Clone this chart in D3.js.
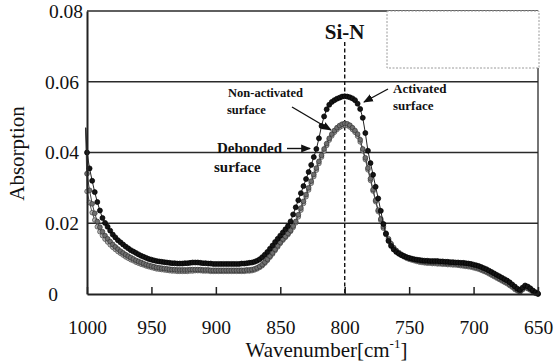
<!DOCTYPE html>
<html>
<head>
<meta charset="utf-8">
<script src="https://cdn.jsdelivr.net/npm/d3@7"></script>
<style>
  html, body { margin: 0; padding: 0; background: #fff; }
  svg { display: block; }
  text { font-family: "Liberation Serif", "Times New Roman", serif; fill: #111; }
</style>
</head>
<body>
<svg id="chart" width="556" height="363"></svg>
<script>
// ---------------- data ----------------
const wavenumbers = [
  1001,
  1000, 998, 996, 994, 992, 990, 988, 986, 984, 982,
  980, 978, 976, 974, 972, 970, 968, 966, 964, 962,
  960, 958, 956, 954, 952, 950, 948, 946, 944, 942,
  940, 938, 936, 934, 932, 930, 928, 926, 924, 922,
  920, 918, 916, 914, 912, 910, 908, 906, 904, 902,
  900, 898, 896, 894, 892, 890, 888, 886, 884, 882,
  880, 878, 876, 874, 872, 870, 868, 866, 864, 862,
  860, 858, 856, 854, 852, 850, 848, 846, 844, 842,
  840, 838, 836, 834, 832, 830, 828, 826, 824, 822,
  820, 818, 816, 814, 812, 810, 808, 806, 804, 802,
  800, 798, 796, 794, 792, 790, 788, 786, 784, 782,
  780, 778, 776, 774, 772, 770, 768, 766, 764, 762,
  760, 758, 756, 754, 752, 750, 748, 746, 744, 742,
  740, 738, 736, 734, 732, 730, 728, 726, 724, 722,
  720, 718, 716, 714, 712, 710, 708, 706, 704, 702,
  700, 698, 696, 694, 692, 690, 688, 686, 684, 682,
  680, 678, 676, 674, 672, 670, 668, 666, 664, 662,
  660, 658, 656, 654, 652, 650
];

const activated = [
  0.047,
  0.040, 0.0355, 0.032, 0.0288, 0.026, 0.0236, 0.0215, 0.0201, 0.0190, 0.0179,
  0.0168, 0.0160, 0.0152, 0.0146, 0.0140, 0.0134, 0.0129, 0.0124, 0.0120, 0.0116,
  0.0112, 0.0108, 0.0105, 0.0102, 0.0099, 0.0097, 0.0095, 0.0093, 0.0092, 0.0091,
  0.0090, 0.0089, 0.0088, 0.0087, 0.0087, 0.0086, 0.0086, 0.0086, 0.0087, 0.0087,
  0.0088, 0.0089, 0.0089, 0.0089, 0.0088, 0.0087, 0.0087, 0.0086, 0.0086, 0.0085,
  0.0085, 0.0085, 0.0085, 0.0085, 0.0085, 0.0085, 0.0085, 0.0085, 0.0085, 0.0085,
  0.0086, 0.0086, 0.0087, 0.0088, 0.0089, 0.0091, 0.0094, 0.0098, 0.0104, 0.0111,
  0.0119, 0.0128, 0.0137, 0.0147, 0.0156, 0.0165, 0.0174, 0.0183, 0.0192, 0.0205,
  0.0225, 0.0245, 0.0265, 0.0285, 0.0305, 0.0325, 0.0345, 0.0365, 0.0387, 0.0410,
  0.0440, 0.0475, 0.0502, 0.0522, 0.0535, 0.0543, 0.0548, 0.0552, 0.0555, 0.0558,
  0.0559, 0.0558, 0.0556, 0.0553, 0.0548, 0.0538, 0.0523, 0.0498, 0.0455, 0.0405,
  0.0370, 0.0337, 0.0303, 0.0270, 0.0235, 0.0198, 0.0170, 0.0150, 0.0136, 0.0126,
  0.0119, 0.0114, 0.0110, 0.0107, 0.0104, 0.0102, 0.0100, 0.0098, 0.0097, 0.0096,
  0.0095, 0.0094, 0.0094, 0.0093, 0.0093, 0.0093, 0.0093, 0.0092, 0.0092, 0.0091,
  0.0091, 0.0090, 0.0090, 0.0089, 0.0089, 0.0088, 0.0088, 0.0087, 0.0086, 0.0085,
  0.0083, 0.0081, 0.0079, 0.0076, 0.0073, 0.0070, 0.0066, 0.0062, 0.0058, 0.0054,
  0.0050, 0.0046, 0.0042, 0.0038, 0.0033, 0.0027, 0.0021, 0.0015, 0.0011, 0.0018,
  0.0024, 0.0021, 0.0016, 0.0010, 0.0005, 0.0001
];

const nonActivated = [
  0.047,
  0.034, 0.0293, 0.0255, 0.0228, 0.0205, 0.0189, 0.0176, 0.0165, 0.0156, 0.0148,
  0.0140, 0.0133, 0.0127, 0.0121, 0.0116, 0.0111, 0.0107, 0.0103, 0.0099, 0.0095,
  0.0092, 0.0089, 0.0086, 0.0083, 0.0081, 0.0079, 0.0077, 0.0075, 0.0074, 0.0073,
  0.0072, 0.0071, 0.0070, 0.0069, 0.0069, 0.0068, 0.0068, 0.0068, 0.0068, 0.0068,
  0.0069, 0.0069, 0.0069, 0.0069, 0.0069, 0.0068, 0.0068, 0.0068, 0.0067, 0.0067,
  0.0067, 0.0067, 0.0067, 0.0067, 0.0067, 0.0067, 0.0067, 0.0067, 0.0067, 0.0067,
  0.0067, 0.0067, 0.0068, 0.0068, 0.0069, 0.0071, 0.0074, 0.0078, 0.0083, 0.0090,
  0.0098, 0.0107, 0.0116, 0.0126, 0.0136, 0.0146, 0.0155, 0.0163, 0.0171, 0.0180,
  0.0192, 0.0205, 0.0224, 0.0243, 0.0262, 0.0281, 0.0300, 0.0319, 0.0338, 0.0356,
  0.0375, 0.0392, 0.0410, 0.0425, 0.0440, 0.0452, 0.0462, 0.0470, 0.0476, 0.0480,
  0.0482, 0.0481, 0.0477, 0.0470, 0.0462, 0.0452, 0.0436, 0.0410, 0.0385, 0.0356,
  0.0326, 0.0295, 0.0265, 0.0237, 0.0212, 0.0190, 0.0172, 0.0156, 0.0142, 0.0131,
  0.0123, 0.0117, 0.0112, 0.0108, 0.0104, 0.0101, 0.0099, 0.0097, 0.0095, 0.0093,
  0.0092, 0.0091, 0.0090, 0.0090, 0.0089, 0.0089, 0.0088, 0.0088, 0.0087, 0.0087,
  0.0086, 0.0086, 0.0085, 0.0085, 0.0084, 0.0083, 0.0082, 0.0081, 0.0080, 0.0079,
  0.0077, 0.0075, 0.0073, 0.0070, 0.0067, 0.0064, 0.0060, 0.0056, 0.0052, 0.0048,
  0.0044, 0.0040, 0.0036, 0.0032, 0.0027, 0.0022, 0.0016, 0.0011, 0.0007, 0.0014,
  0.0020, 0.0017, 0.0013, 0.0008, 0.0003, 0.0000
];

const debonded = [
  0.047,
  0.029, 0.0258, 0.0230, 0.0209, 0.0190, 0.0176, 0.0165, 0.0155, 0.0147, 0.0139,
  0.0132, 0.0126, 0.0120, 0.0115, 0.0110, 0.0105, 0.0101, 0.0097, 0.0094, 0.0090,
  0.0087, 0.0084, 0.0082, 0.0079, 0.0077, 0.0075, 0.0073, 0.0071, 0.0070, 0.0069,
  0.0068, 0.0067, 0.0066, 0.0065, 0.0065, 0.0064, 0.0064, 0.0064, 0.0064, 0.0064,
  0.0065, 0.0065, 0.0066, 0.0066, 0.0066, 0.0065, 0.0065, 0.0065, 0.0064, 0.0064,
  0.0064, 0.0064, 0.0064, 0.0064, 0.0064, 0.0064, 0.0064, 0.0064, 0.0064, 0.0064,
  0.0064, 0.0064, 0.0065, 0.0065, 0.0066, 0.0068, 0.0071, 0.0075, 0.0080, 0.0087,
  0.0095, 0.0104, 0.0113, 0.0123, 0.0133, 0.0143, 0.0152, 0.0160, 0.0168, 0.0177,
  0.0188, 0.0201, 0.0218, 0.0237, 0.0256, 0.0275, 0.0294, 0.0313, 0.0332, 0.0350,
  0.0369, 0.0387, 0.0404, 0.0420, 0.0435, 0.0447, 0.0457, 0.0465, 0.0471, 0.0475,
  0.0477, 0.0476, 0.0472, 0.0465, 0.0457, 0.0446, 0.0430, 0.0405, 0.0380, 0.0351,
  0.0321, 0.0291, 0.0261, 0.0233, 0.0208, 0.0186, 0.0168, 0.0152, 0.0139, 0.0128,
  0.0120, 0.0114, 0.0109, 0.0105, 0.0101, 0.0098, 0.0096, 0.0094, 0.0092, 0.0090,
  0.0089, 0.0088, 0.0087, 0.0087, 0.0086, 0.0086, 0.0085, 0.0085, 0.0084, 0.0084,
  0.0083, 0.0083, 0.0082, 0.0082, 0.0081, 0.0080, 0.0079, 0.0078, 0.0077, 0.0076,
  0.0074, 0.0072, 0.0070, 0.0067, 0.0064, 0.0061, 0.0057, 0.0053, 0.0049, 0.0045,
  0.0041, 0.0037, 0.0033, 0.0029, 0.0024, 0.0019, 0.0013, 0.0009, 0.0005, 0.0012,
  0.0018, 0.0015, 0.0011, 0.0006, 0.0002, 0.0000
];

const xTicks = [1000, 950, 900, 850, 800, 750, 700, 650];
const yTicks = [0, 0.02, 0.04, 0.06, 0.08];
const peakPosition = 800;
const peakLabel = "Si-N";
const xTitle = "Wavenumber[cm";
const yTitle = "Absorption";

// ---------------- layout ----------------
const svg = d3.select("#chart");
const W = 556, H = 363;
const m = { left: 87, right: 18, top: 11, bottom: 69 };
const x = d3.scaleLinear().domain([1000, 650]).range([m.left, W - m.right]);
const y = d3.scaleLinear().domain([0, 0.08]).range([H - m.bottom, m.top]);
const serif = '"Liberation Serif", "Times New Roman", serif';

// gridlines
svg.append("g")
  .selectAll("line")
  .data(yTicks.filter(d => d > 0))
  .join("line")
  .attr("x1", x(1000)).attr("x2", x(650))
  .attr("y1", d => y(d)).attr("y2", d => y(d))
  .attr("stroke", "#2a2a2a").attr("stroke-width", 1.3);

// right frame border
svg.append("line")
  .attr("x1", x(650)).attr("x2", x(650))
  .attr("y1", y(0.08)).attr("y2", y(0))
  .attr("stroke", "#2a2a2a").attr("stroke-width", 1.3);

// Si-N dashed marker line
svg.append("line")
  .attr("x1", x(peakPosition)).attr("x2", x(peakPosition))
  .attr("y1", 42).attr("y2", y(0))
  .attr("stroke", "#111").attr("stroke-width", 1.4)
  .attr("stroke-dasharray", "4,2.5");

// series
const series = [
  { name: "Debonded", values: debonded, fill: "#b4b4b4", stroke: "#444", r: 2.3, line: "#555" },
  { name: "Non-activated", values: nonActivated, fill: "#6e6e6e", stroke: "#333", r: 2.4, line: "#444" },
  { name: "Activated", values: activated, fill: "#151515", stroke: "#000", r: 2.5, line: "#222" }
];

const lineGen = d3.line().x(d => x(d[0])).y(d => y(d[1]));

series.forEach(s => {
  const pts = wavenumbers.map((w, i) => [w, s.values[i]]);
  svg.append("path")
    .datum(pts)
    .attr("d", lineGen)
    .attr("fill", "none")
    .attr("stroke", s.line)
    .attr("stroke-width", 1);
  svg.append("g")
    .selectAll("circle")
    .data(pts.filter(p => p[0] <= 1000))
    .join("circle")
    .attr("cx", d => x(d[0]))
    .attr("cy", d => y(d[1]))
    .attr("r", s.r)
    .attr("fill", s.fill)
    .attr("stroke", s.stroke)
    .attr("stroke-width", 0.7);
});

// bottom axis
const xAxis = svg.append("g")
  .attr("transform", `translate(0,${y(0)})`)
  .call(d3.axisBottom(x).tickValues(xTicks).tickFormat(d3.format("d")).tickSizeInner(-7).tickSizeOuter(0).tickPadding(26));
xAxis.attr("font-family", null);
xAxis.select(".domain").attr("stroke", "#222").attr("stroke-width", 2);
xAxis.selectAll(".tick line").attr("stroke", "#222").attr("stroke-width", 1.5);
xAxis.selectAll(".tick text").attr("font-size", "19.5px").attr("fill", "#111")
  .attr("font-family", serif).style("font-family", serif);

// left axis
const labelDx = { 0: -21, 0.08: 4 };
const yAxis = svg.append("g")
  .attr("transform", `translate(${x(1000)},0)`)
  .call(d3.axisLeft(y).tickValues(yTicks).tickFormat(d => d === 0 ? "0" : d3.format(".2f")(d)).tickSize(0).tickPadding(8));
yAxis.attr("font-family", null);
yAxis.select(".domain").attr("stroke", "#222").attr("stroke-width", 2);
yAxis.selectAll(".tick text").attr("font-size", "19.5px").attr("fill", "#111")
  .attr("dx", d => (labelDx[d] || 0) + "px")
  .attr("font-family", serif).style("font-family", serif);

// legend box (empty, dotted)
svg.append("rect")
  .attr("x", 387).attr("y", 11).attr("width", 152).attr("height", 57)
  .attr("fill", "#fff").attr("stroke", "#9a9a9a").attr("stroke-width", 1)
  .attr("stroke-dasharray", "2,1.5");

// axis titles
const xt = svg.append("text")
  .attr("x", (x(1000) + x(650)) / 2 + 14).attr("y", 357)
  .attr("text-anchor", "middle").attr("font-size", "21px");
xt.append("tspan").text(xTitle);
xt.append("tspan").attr("font-size", "13px").attr("dy", "-9").text("-1");
xt.append("tspan").attr("dy", "9").text("]");

svg.append("text")
  .attr("transform", `translate(24,${(y(0) + y(0.08)) / 2 + 1}) rotate(-90)`)
  .attr("text-anchor", "middle").attr("font-size", "21px")
  .text(yTitle);

// Si-N label
svg.append("text")
  .attr("x", x(peakPosition)).attr("y", 39)
  .attr("text-anchor", "middle").attr("font-size", "21px").attr("font-weight", "bold")
  .text(peakLabel);

// annotations
const defs = svg.append("defs");
defs.append("marker")
  .attr("id", "arrow").attr("viewBox", "0 0 10 10").attr("refX", 9).attr("refY", 5)
  .attr("markerWidth", 7).attr("markerHeight", 7).attr("orient", "auto-start-reverse")
  .append("path").attr("d", "M0,1 L10,5 L0,9 Z").attr("fill", "#111");

function annot(lines, tx, ty, size, lh) {
  const t = svg.append("text").attr("font-size", size + "px").attr("font-weight", "bold");
  lines.forEach((s, i) => t.append("tspan").attr("x", tx[i]).attr("y", ty + i * lh).text(s));
}
annot(["Activated", "surface"], [393, 393], 93, 13, 16.5);
annot(["Non-activated", "surface"], [228, 227], 97, 12.5, 17);
annot(["Debonded", "surface"], [217, 214], 153, 15, 19);

function arrow(x1, y1, x2, y2) {
  svg.append("line").attr("x1", x1).attr("y1", y1).attr("x2", x2).attr("y2", y2)
    .attr("stroke", "#111").attr("stroke-width", 1.4).attr("marker-end", "url(#arrow)");
}
arrow(388, 89, 364, 102);
arrow(292, 107, 331, 130);
arrow(287, 148.5, 310, 148.5);
</script>
</body>
</html>
